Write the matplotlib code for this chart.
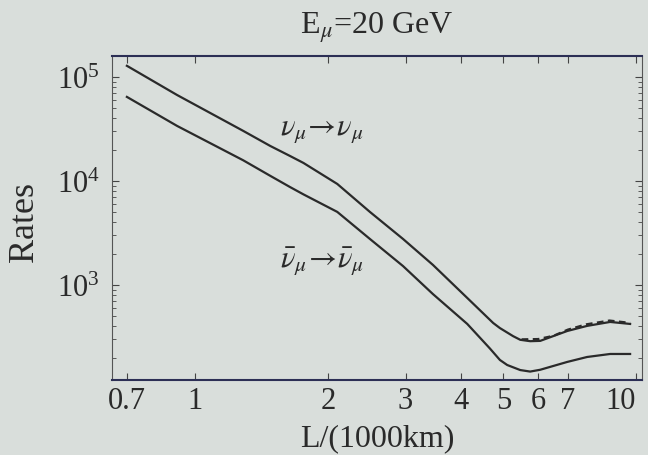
import numpy as np
import matplotlib
matplotlib.use('Agg')
from matplotlib import pyplot as plt
from matplotlib.ticker import FixedLocator, NullFormatter

plt.rcParams['font.family'] = ['Liberation Serif', 'DejaVu Serif']
plt.rcParams['mathtext.fontset'] = 'stix'

# baseline L in 1000 km
L_up = [0.7, 0.91, 1.285, 1.48, 1.64, 1.76, 2.10, 2.49, 2.96, 3.46, 4.14, 4.74,
        4.91, 5.26, 5.46, 5.75, 6.06, 6.98, 7.74, 8.73, 9.69]
rate_numu = [1.28e5, 6.7e4, 3.03e4, 2.17e4, 1.74e4, 1.49e4, 9.36e3, 5.04e3, 2.77e3,
             1.56e3, 750, 431, 385, 322, 297, 288, 290, 361, 404, 441, 422]

# dashed curve that sits on top of the solid one at large L
L_up_dash = [5.5, 6.0, 6.5, 7.0, 7.7, 8.7, 9.69]
rate_numu_dash = [300, 302, 325, 372, 418, 455, 432]

L_dn = [0.7, 0.91, 1.285, 1.48, 1.64, 1.76, 2.10, 2.49, 2.96, 3.46, 4.14, 4.66,
        4.91, 5.10, 5.46, 5.75, 6.06, 6.98, 7.74, 8.73, 9.69]
rate_numubar = [6.43e4, 3.38e4, 1.58e4, 1.12e4, 8.75e3, 7.43e3, 5.04e3, 2.77e3, 1.52e3,
                818, 422, 245, 190, 170, 152, 147, 153, 182, 203, 217, 217]

x_ticks = [0.7, 1, 2, 3, 4, 5, 6, 7, 10]
x_labels = ['0.7', '1', '2', '3', '4', '5', '6', '7', '10']

bg = '#d9dedb'
ink = '#2a2a2a'
fig = plt.figure(figsize=(6.48, 4.56), dpi=100, facecolor=bg)
ax = fig.add_axes([0.173, 0.1645, 0.818, 0.7105], facecolor=bg)

ax.plot(L_up, rate_numu, color=ink, linewidth=1.6)
ax.plot(L_up_dash, rate_numu_dash, color=ink, linewidth=1.6, dashes=(3, 2))
ax.plot(L_dn, rate_numubar, color=ink, linewidth=1.6)

ax.set_xscale('log')
ax.set_yscale('log')
ax.set_xlim(0.648, 10.32)
ax.set_ylim(122, 1.59e5)

ax.xaxis.set_major_locator(FixedLocator(x_ticks))
ax.set_xticklabels(x_labels)
ax.xaxis.set_minor_locator(FixedLocator([]))
ax.xaxis.set_minor_formatter(NullFormatter())
ax.get_xticklabels()[-1].set_horizontalalignment('right')

ax.tick_params(which='both', direction='in', top=True, right=True,
               labelsize=22, colors='#444444', labelcolor=ink)
ax.tick_params(which='major', length=5)
ax.tick_params(which='minor', length=3)
ax.tick_params(axis='x', pad=4)
ax.tick_params(axis='y', pad=9)

for s in ['left', 'right']:
    ax.spines[s].set_color('#555555')
for s in ['top', 'bottom']:
    ax.spines[s].set_color('#2c2f55')
    ax.spines[s].set_linewidth(1.5)

ax.text(1.94, 3.1e4, r'$\nu_\mu\!\rightarrow\!\nu_\mu$', fontsize=22,
        color=ink, ha='center', va='center')
ax.text(1.94, 1.7e3, r'$\bar{\nu}_\mu\!\rightarrow\!\bar{\nu}_\mu$', fontsize=22,
        color=ink, ha='center', va='center')

ax.set_title(r'E$_\mu$=20 GeV', fontsize=23, color=ink, pad=17)
ax.set_xlabel('L/(1000km)', fontsize=23, color=ink, labelpad=6)
fig.text(24 / 648, 1 - 222 / 456, 'Rates', fontsize=26, color=ink,
         rotation=90, ha='center', va='center')

plt.savefig('out.png', dpi=100, facecolor=bg)
